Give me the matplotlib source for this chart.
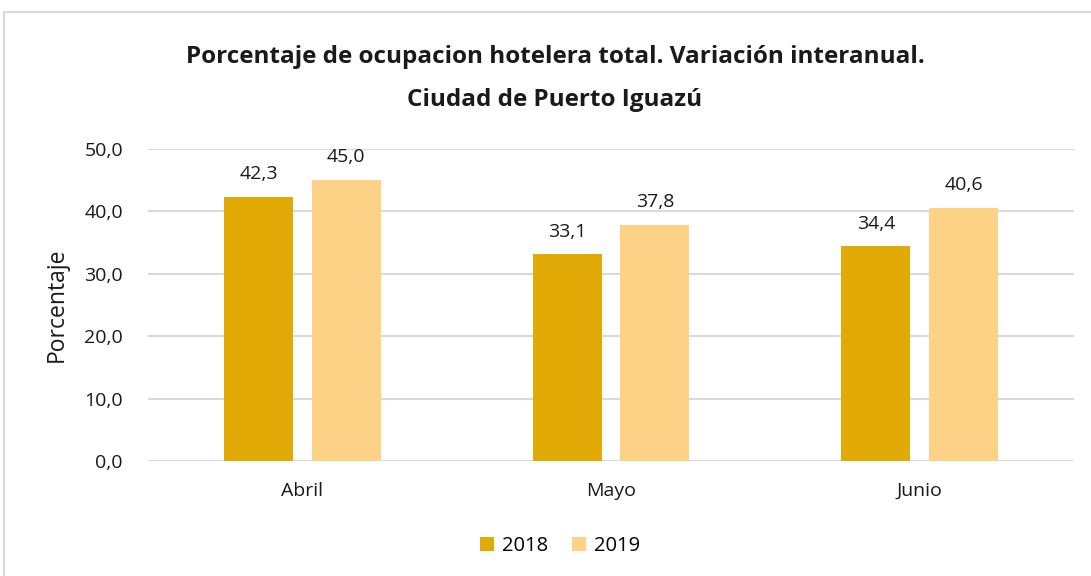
import matplotlib.pyplot as plt
import numpy as np
from matplotlib.patches import Rectangle

meses = ['Abril', 'Mayo', 'Junio']
anios = ['2018', '2019']
v2018 = [42.3, 33.1, 34.4]
v2019 = [45.0, 37.8, 40.6]
colores = ['#E1AA06', '#FDD286']

plt.rcParams['font.family'] = ['Open Sans', 'DejaVu Sans']

fig = plt.figure(figsize=(10.91, 5.76), dpi=100)
# marco del grafico
fig.patches.append(Rectangle((4 / 1091, -0.1), 1.2, (576 - 12) / 576 + 0.1,
                             transform=fig.transFigure, fill=False,
                             edgecolor='#D9D9D9', linewidth=1.5))

ax = fig.add_axes([148 / 1091, 1 - 461 / 576, 926 / 1091, 312 / 576])

x = np.arange(len(meses))
w = 0.224
off = (w + 0.06) / 2
for i, (vals, anio) in enumerate(zip([v2018, v2019], anios)):
    pos = x + (-off if i == 0 else off)
    ax.bar(pos, vals, w, color=colores[i], label=anio, zorder=3)
    for p, v in zip(pos, vals):
        ax.text(p, v + 2.2, f'{v:.1f}'.replace('.', ','), ha='center', va='bottom',
                fontsize=14, color='#1a1a1a')

ax.set_xlim(-0.5, 2.5)
ax.set_ylim(0, 50)
ax.set_yticks(np.arange(0, 51, 10))
ax.set_yticklabels([f'{t:.1f}'.replace('.', ',') for t in np.arange(0, 51, 10)])
ax.set_xticks(x)
ax.set_xticklabels(meses)
ax.tick_params(length=0, labelsize=14, colors='#1a1a1a')
ax.tick_params(axis='y', pad=18)
ax.tick_params(axis='x', pad=15)
ax.yaxis.grid(True, color='#D9D9D9', linewidth=1.5, zorder=0)
for s in ax.spines.values():
    s.set_visible(False)
ax.set_ylabel('Porcentaje', fontsize=16.5, color='#1a1a1a')
ax.yaxis.set_label_coords(-0.0853, 0.5)

fig.text(555 / 1091, 1 - 57 / 576, 'Porcentaje de ocupacion hotelera total. Variación interanual.',
         ha='center', va='center', fontsize=17.5, fontweight='bold', color='#1a1a1a')
fig.text(555 / 1091, 1 - 100 / 576, 'Ciudad de Puerto Iguazú',
         ha='center', va='center', fontsize=17.5, fontweight='bold', color='#1a1a1a')

fig.legend(loc='center', bbox_to_anchor=(560 / 1091, 1 - 546 / 576), ncol=2, frameon=False,
           fontsize=14.5, handlelength=0.7, handleheight=0.7, handletextpad=0.4, columnspacing=1.2)

fig.savefig('out.png', dpi=100)
